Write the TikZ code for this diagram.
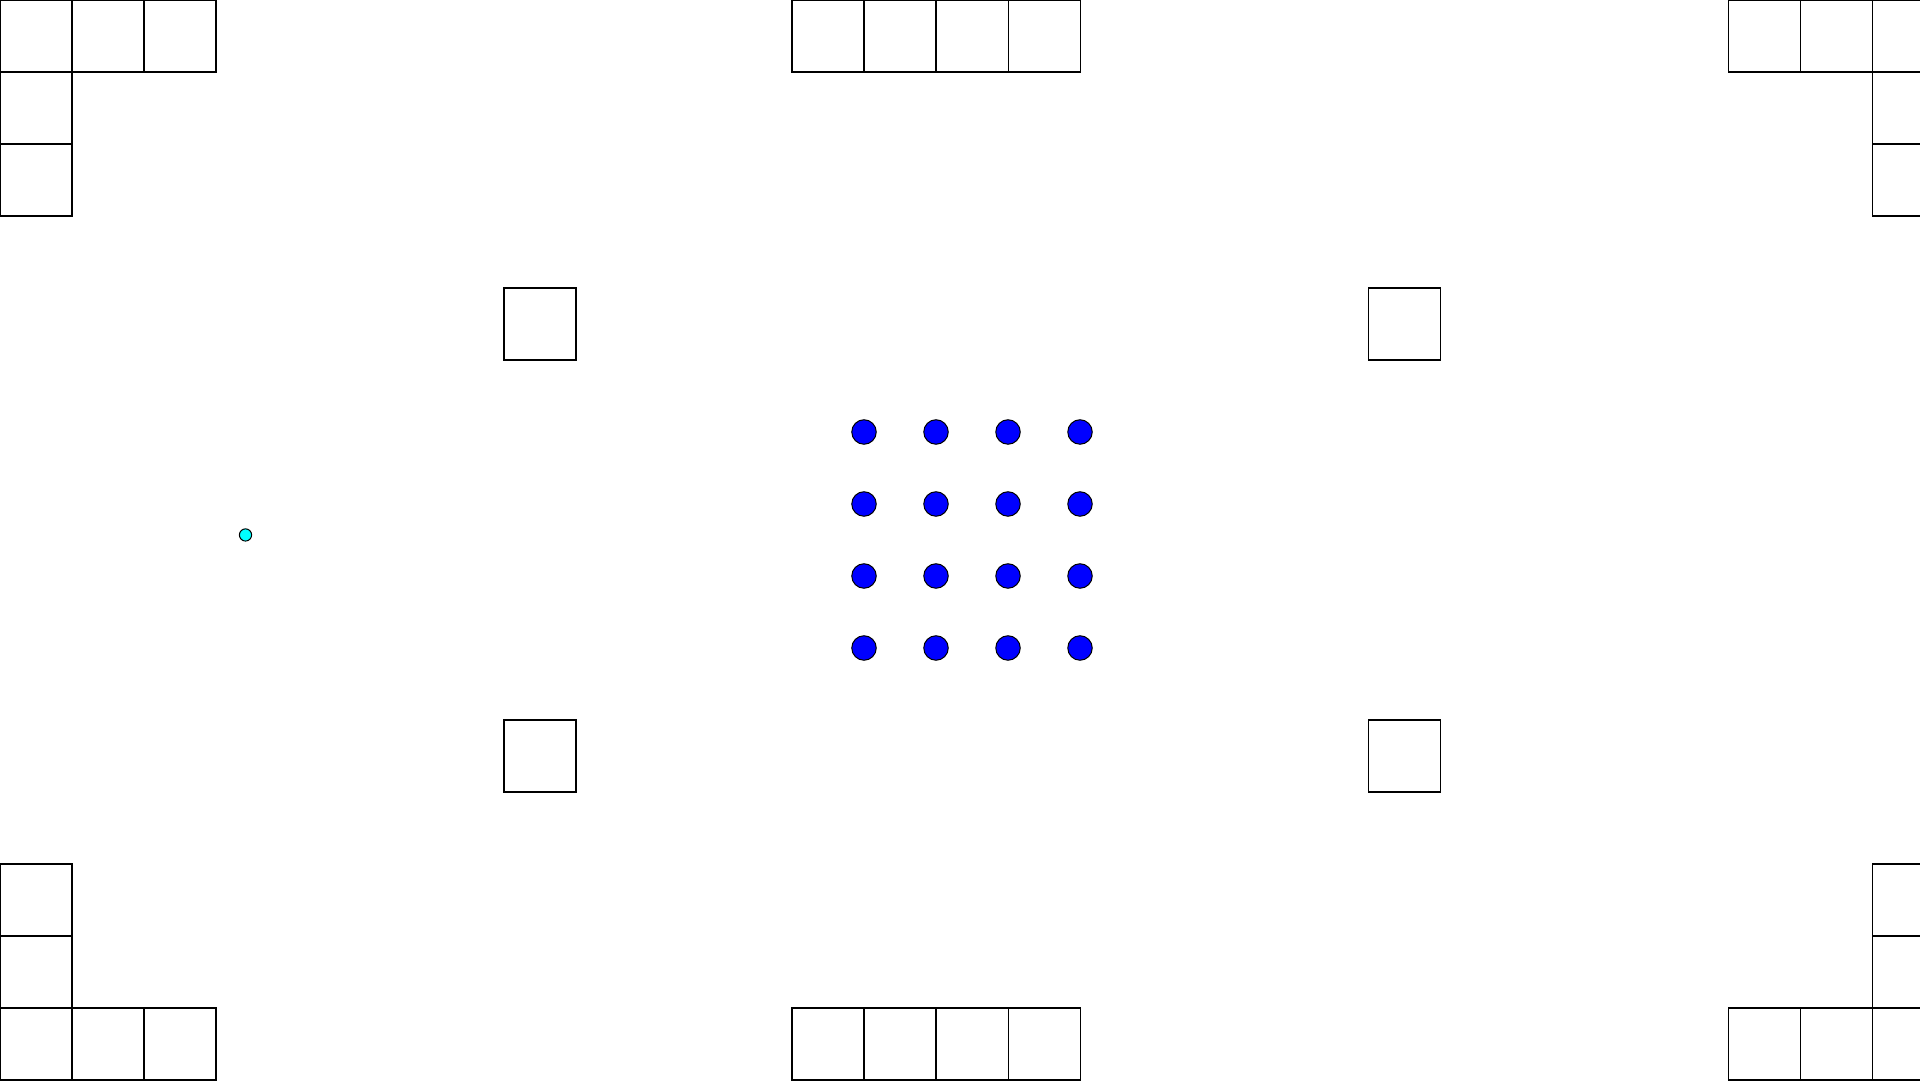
\documentclass[tikz,border=0pt]{standalone}
\usepackage{tikz}
\usetikzlibrary{positioning}
\usepackage{xcolor}
\definecolor{DotBlue}{RGB}{0, 0, 255}
\definecolor{MarkCyan}{RGB}{0, 255, 255}

\begin{document}
\begin{tikzpicture}[
    % one grid cell = 1 cm, picture is 26.67 x 15 cells
    cell/.style={draw=black, fill=none, minimum size=1cm,
                 inner sep=0pt, outer sep=0pt, line width=0.4pt},
    token/.style={circle, draw=black, fill=DotBlue, minimum size=0.34cm,
                  inner sep=0pt, line width=0.4pt},
    marker/.style={circle, draw=black, fill=MarkCyan, minimum size=0.17cm,
                   inner sep=0pt, line width=0.4pt}
  ]

  % ── Frame: fixes the page size and cuts the cells at the edges ───────────
  \useasboundingbox (0, 0) rectangle (26.6667, 15);
  \clip (0, 0) rectangle (26.6667, 15);

  % ── Top row: corner L-shapes and centre strip ────────────────────────────
  \node[cell] (tl1) at ( 0.5, 14.5) {};
  \node[cell] (tl2) at ( 1.5, 14.5) {};
  \node[cell] (tl3) at ( 2.5, 14.5) {};
  \node[cell] (tl4) at ( 0.5, 13.5) {};
  \node[cell] (tl5) at ( 0.5, 12.5) {};

  \node[cell] (tc1) at (11.5, 14.5) {};
  \node[cell] (tc2) at (12.5, 14.5) {};
  \node[cell] (tc3) at (13.5, 14.5) {};
  \node[cell] (tc4) at (14.5, 14.5) {};

  \node[cell] (tr1) at (24.5, 14.5) {};
  \node[cell] (tr2) at (25.5, 14.5) {};
  \node[cell] (tr3) at (26.5, 14.5) {};
  \node[cell] (tr4) at (26.5, 13.5) {};
  \node[cell] (tr5) at (26.5, 12.5) {};

  % ── Four single cells round the centre ───────────────────────────────────
  \node[cell] (ml1) at ( 7.5, 10.5) {};
  \node[cell] (mr1) at (19.5, 10.5) {};
  \node[cell] (ml2) at ( 7.5,  4.5) {};
  \node[cell] (mr2) at (19.5,  4.5) {};

  % ── Bottom row: corner L-shapes and centre strip ─────────────────────────
  \node[cell] (bl1) at ( 0.5,  2.5) {};
  \node[cell] (bl2) at ( 0.5,  1.5) {};
  \node[cell] (bl3) at ( 0.5,  0.5) {};
  \node[cell] (bl4) at ( 1.5,  0.5) {};
  \node[cell] (bl5) at ( 2.5,  0.5) {};

  \node[cell] (bc1) at (11.5,  0.5) {};
  \node[cell] (bc2) at (12.5,  0.5) {};
  \node[cell] (bc3) at (13.5,  0.5) {};
  \node[cell] (bc4) at (14.5,  0.5) {};

  \node[cell] (br1) at (24.5,  0.5) {};
  \node[cell] (br2) at (25.5,  0.5) {};
  \node[cell] (br3) at (26.5,  0.5) {};
  \node[cell] (br4) at (26.5,  1.5) {};
  \node[cell] (br5) at (26.5,  2.5) {};

  % ── 4x4 block of tokens in the middle ────────────────────────────────────
  \node[token] (t11) at (12, 9) {};
  \node[token] (t12) at (13, 9) {};
  \node[token] (t13) at (14, 9) {};
  \node[token] (t14) at (15, 9) {};
  \node[token] (t21) at (12, 8) {};
  \node[token] (t22) at (13, 8) {};
  \node[token] (t23) at (14, 8) {};
  \node[token] (t24) at (15, 8) {};
  \node[token] (t31) at (12, 7) {};
  \node[token] (t32) at (13, 7) {};
  \node[token] (t33) at (14, 7) {};
  \node[token] (t34) at (15, 7) {};
  \node[token] (t41) at (12, 6) {};
  \node[token] (t42) at (13, 6) {};
  \node[token] (t43) at (14, 6) {};
  \node[token] (t44) at (15, 6) {};

  % Small cyan marker on the left
  \node[marker] (cur) at (3.41, 7.57) {};

\end{tikzpicture}
\end{document}
